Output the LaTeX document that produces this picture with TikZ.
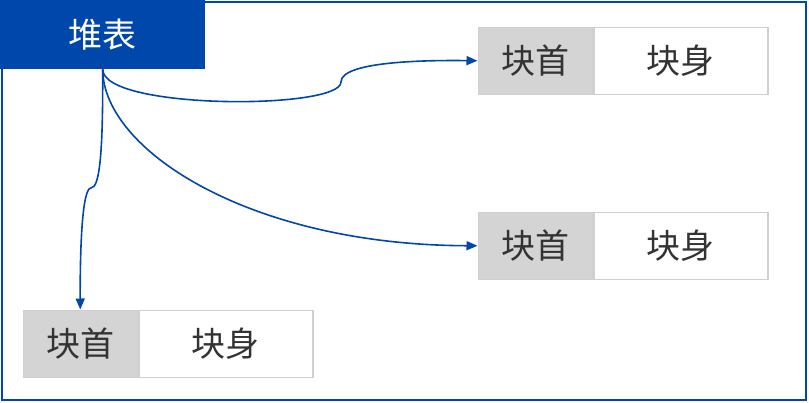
\documentclass[tikz,border=0pt]{standalone}
\usepackage{fontspec}
\newfontfamily\cjk{Noto Sans CJK SC}
\usetikzlibrary{arrows.meta}
\definecolor{hblue}{RGB}{0,71,171}
\definecolor{hgray}{RGB}{212,212,212}
\definecolor{hline}{RGB}{208,208,208}
\definecolor{htext}{RGB}{51,51,51}
\begin{document}
\begin{tikzpicture}[x=1pt,y=-1pt,
  headbox/.style={fill=hblue,draw=none,text=white,font=\cjk\fontsize{34}{38}\selectfont,minimum width=205pt,minimum height=69pt,inner sep=0pt},
  blkhead/.style={fill=hgray,draw=hline,line width=1.5pt,text=htext,font=\cjk\fontsize{34}{38}\selectfont,minimum width=114pt,minimum height=67pt,inner sep=0pt},
  blkbody/.style={fill=white,draw=hline,line width=1.5pt,text=htext,font=\cjk\fontsize{34}{38}\selectfont,minimum width=174pt,minimum height=67pt,inner sep=0pt},
  conn/.style={draw=hblue,line width=1.6pt,-{Triangle[length=11pt,width=9pt]}}]
\useasboundingbox (0,0) rectangle (809,402);
\draw[hblue,line width=2pt] (1.5,1.5) rectangle (806,400);
\node[headbox,anchor=north west] (heap) at (0,0) {堆表};
% block 1
\node[blkhead,anchor=north west] (h1) at (477.5,26.5) {块首};
\node[blkbody,anchor=west] (b1) at (h1.east) {块身};
% block 2
\node[blkhead,anchor=north west] (h2) at (477.5,211.5) {块首};
\node[blkbody,anchor=west] (b2) at (h2.east) {块身};
% block 3
\node[blkhead,anchor=north west] (h3) at (22.5,309.5) {块首};
\node[blkbody,anchor=west] (b3) at (h3.east) {块身};
\coordinate (k1) at (341,82);
\coordinate (k3) at (91,188);
\draw[conn] (heap.south) .. controls (103,110) and (341,110) .. (k1) .. controls (341,62) and (420,60) .. (h1.west);
\draw[conn] (heap.south) .. controls (103,150) and (250,245) .. (h2.west);
\draw[conn] (heap.south) .. controls (103,150) and (100,188) .. (k3) .. controls (82,188) and (80,250) .. (h3.north);
\end{tikzpicture}
\end{document}
